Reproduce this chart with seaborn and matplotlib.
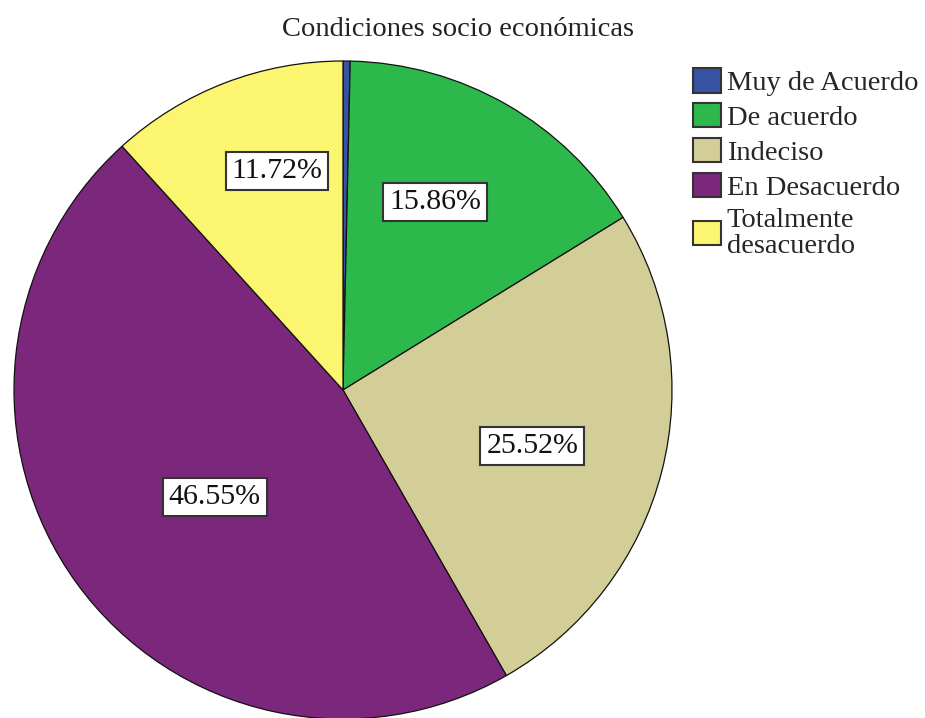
import numpy as np
import seaborn as sns
import matplotlib.pyplot as plt

# datos
categorias = ['Muy de Acuerdo', 'De acuerdo', 'Indeciso', 'En Desacuerdo',
              'Totalmente\ndesacuerdo']
porcentajes = [0.35, 15.86, 25.52, 46.55, 11.72]
colores = ['#3953A4', '#2DB84B', '#D3CE97', '#7B277B', '#FBF570']
titulo = 'Condiciones socio económicas'

# ubicacion de cada etiqueta: fraccion del radio y desvio angular (grados)
dist_etiquetas = [0.6, 0.636, 0.60, 0.508, 0.694]
desvio_etiquetas = [0, 3.7, -2.2, 3.8, -4.3]

sns.set_style('white')
plt.rcParams['font.family'] = ['Liberation Serif', 'DejaVu Serif']

W, H = 925, 718
fig = plt.figure(figsize=(W / 100, H / 100), dpi=100)

# pie: centro (343, 390) px, radio 329 px
cx, cy, r = 343, 390, 329
ax = fig.add_axes([(cx - r) / W, (H - cy - r) / H, 2 * r / W, 2 * r / H])

wedges, _ = ax.pie(porcentajes, colors=colores, startangle=90, counterclock=False,
                   wedgeprops=dict(edgecolor='#111111', linewidth=0.9),
                   radius=1.0)
ax.set_xlim(-1, 1)
ax.set_ylim(-1, 1)
ax.set_aspect('equal')
ax.axis('off')

total = sum(porcentajes)
for w, p, d, da in zip(wedges, porcentajes, dist_etiquetas, desvio_etiquetas):
    if p < 1:
        continue
    ang = np.deg2rad((w.theta1 + w.theta2) / 2 + da)
    ax.text(d * np.cos(ang), d * np.sin(ang), f'{p / total * 100:.2f}%',
            ha='center', va='center', fontsize=21.5, color='#111111',
            bbox=dict(boxstyle='square,pad=0.2', fc='white', ec='#333333', lw=1.5))

fig.text(457.5 / W, 1 - 36 / H, titulo, ha='center', va='baseline',
         fontsize=20.5, color='#222222')

leg = fig.legend(wedges, categorias, loc='upper left',
                 bbox_to_anchor=(693 / W, 1 - 68 / H), frameon=False,
                 fontsize=20.5, borderpad=0, borderaxespad=0,
                 handlelength=0.98, handleheight=0.95, handletextpad=0.2,
                 labelspacing=0.24)
for h in leg.legend_handles:
    h.set_edgecolor('#333333')
    h.set_linewidth(1.5)
leg.get_texts()[-1].set_linespacing(1.05)

fig.savefig('out.png', dpi=100)
